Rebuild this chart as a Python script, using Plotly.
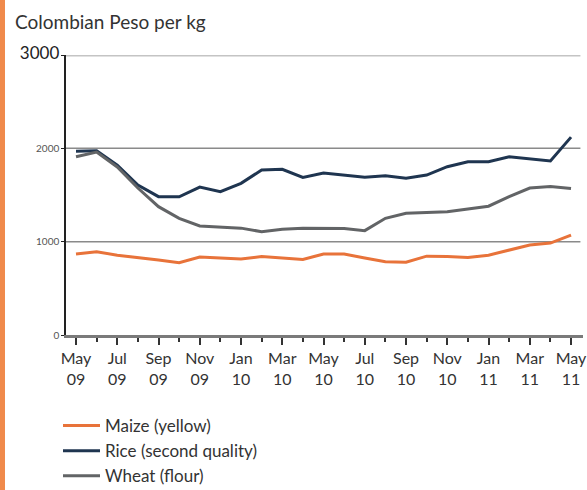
import plotly.graph_objects as go

# Monthly observations, May 2009 - May 2011
months = ["May 09", "Jun 09", "Jul 09", "Aug 09", "Sep 09", "Oct 09", "Nov 09", "Dec 09",
          "Jan 10", "Feb 10", "Mar 10", "Apr 10", "May 10", "Jun 10", "Jul 10", "Aug 10",
          "Sep 10", "Oct 10", "Nov 10", "Dec 10", "Jan 11", "Feb 11", "Mar 11", "Apr 11",
          "May 11"]

maize = [868, 893, 855, 825, 803, 775, 835, 825, 815, 840, 825, 810,
         868, 868, 825, 785, 780, 845, 840, 830, 855, 910, 965, 985, 1070]
rice = [1970, 1975, 1820, 1607, 1482, 1480, 1585, 1535, 1625, 1768, 1776, 1688,
        1735, 1714, 1690, 1705, 1680, 1714, 1803, 1857, 1857, 1910, 1890, 1865, 2120]
wheat = [1910, 1960, 1800, 1575, 1375, 1250, 1168, 1160, 1145, 1107, 1133, 1145,
         1140, 1140, 1118, 1250, 1305, 1310, 1320, 1350, 1380, 1482, 1575, 1590, 1570]

series_names = ["Maize (yellow)", "Rice (second quality)", "Wheat (flour)"]
series_colors = ["#e8733a", "#1f3550", "#626466"]

y_ticks = [0, 1000, 2000, 3000]
y_ticktext = ["0", "1000", "2000",
              '<span style="font-size:17px;color:#222">3000</span>']

FONT = "Lato"
PLOT_W, PLOT_H = 517, 280

x = list(range(len(months)))
major = x[::2]
minor = x[1::2]
tick_labels = [m.replace(" ", "<br>") for m in months[::2]]

fig = go.Figure()
for name, vals, col in zip(series_names, [maize, rice, wheat], series_colors):
    fig.add_trace(go.Scatter(x=x, y=vals, mode="lines", name=name,
                             line=dict(color=col, width=3)))

# horizontal reference lines
for yv, col, w in [(1000, "#8a8a8a", 1.5), (2000, "#8a8a8a", 1.5), (3000, "#c4c4c4", 3)]:
    fig.add_shape(type="line", xref="paper", yref="y", x0=0, x1=0.995, y0=yv, y1=yv,
                  line=dict(color=col, width=w), layer="below")

# orange accent strip on the left edge
fig.add_shape(type="rect", xref="paper", yref="paper",
              x0=-66 / PLOT_W, x1=-61 / PLOT_W, y0=-1.0, y1=1.3,
              fillcolor="#f08a4b", line=dict(width=0), layer="below")

fig.update_layout(
    width=587, height=490,
    margin=dict(l=66, r=4, t=55, b=155, autoexpand=False),
    paper_bgcolor="white", plot_bgcolor="white",
    font=dict(family=FONT, color="#333"),
    showlegend=True,
    legend=dict(x=-8 / PLOT_W, y=-(408 - 335) / PLOT_H, xanchor="left", yanchor="top",
                font=dict(size=17, color="#333"), tracegroupgap=0, itemwidth=37,
                bgcolor="rgba(0,0,0,0)"),
    annotations=[dict(text="Colombian Peso per kg", xref="paper", yref="paper",
                      x=-53 / PLOT_W, y=(335 - 8) / PLOT_H, xanchor="left", yanchor="top",
                      showarrow=False, font=dict(size=19, color="#333", family=FONT))],
)

fig.update_xaxes(
    range=[-0.485, 24.58], tickmode="array", tickvals=major, ticktext=tick_labels,
    showline=True, linecolor="#7a7a7a", linewidth=2.5,
    ticks="outside", ticklen=7, tickwidth=1.5, tickcolor="#333",
    minor=dict(tickvals=minor, ticks="outside", ticklen=4, tickwidth=1.5, tickcolor="#333"),
    showgrid=False, zeroline=False, ticklabeloverflow="allow",
    tickfont=dict(size=16, color="#333"),
)
fig.update_yaxes(
    range=[0, 3000], tickmode="array", tickvals=y_ticks, ticktext=y_ticktext,
    showline=True, linecolor="#222", linewidth=1.5,
    ticks="outside", ticklen=3, tickcolor="#222",
    showgrid=False, zeroline=False,
    tickfont=dict(size=10, color="#555"),
)

fig.write_html("out.html")
